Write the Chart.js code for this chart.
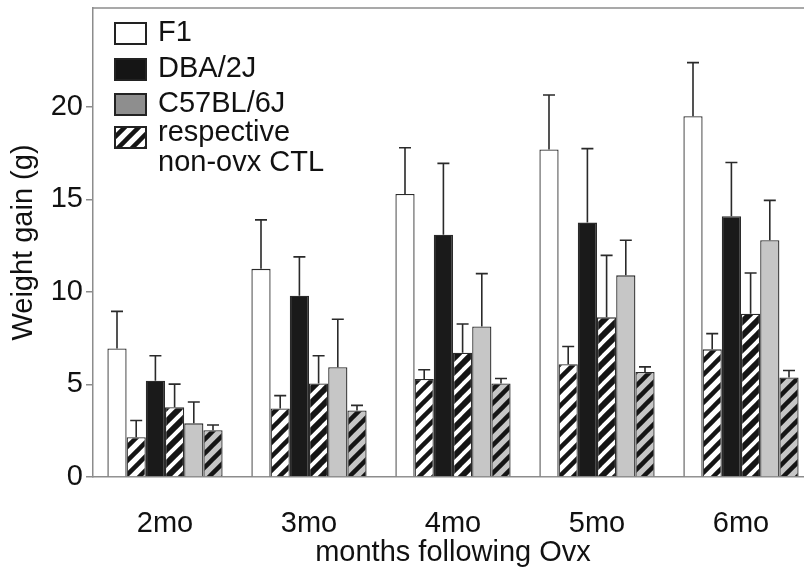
<!DOCTYPE html>
<html>
<head>
<meta charset="utf-8">
<script src="https://cdn.jsdelivr.net/npm/chart.js@4.4.1/dist/chart.umd.min.js"></script>
<style>
html, body { margin: 0; padding: 0; background: #fff; overflow: hidden; }
#wrap { width: 804px; height: 570px; overflow: hidden; }
</style>
</head>
<body>
<div id="wrap"><canvas id="graph" width="830" height="570"></canvas></div>
<script>
const months = ['2mo', '3mo', '4mo', '5mo', '6mo'];

const f1 = [6.95, 11.25, 15.3, 17.7, 19.5];
const f1Err = [2.0, 2.65, 2.5, 2.95, 2.9];
const f1Ctl = [2.15, 3.7, 5.3, 6.1, 6.9];
const f1CtlErr = [0.9, 0.7, 0.5, 0.95, 0.85];
const dba = [5.2, 9.8, 13.1, 13.75, 14.1];
const dbaErr = [1.35, 2.1, 3.85, 4.0, 2.9];
const dbaCtl = [3.77, 5.05, 6.72, 8.63, 8.83];
const dbaCtlErr = [1.25, 1.5, 1.55, 3.35, 2.2];
const c57 = [2.9, 5.93, 8.14, 10.9, 12.8];
const c57Err = [1.15, 2.6, 2.85, 1.9, 2.15];
const c57Ctl = [2.53, 3.6, 5.05, 5.68, 5.38];
const c57CtlErr = [0.28, 0.27, 0.27, 0.27, 0.38];

const yTicks = [0, 5, 10, 15, 20];
const legendLabels = ['F1', 'DBA/2J', 'C57BL/6J', ['respective', 'non-ovx CTL']];

const FONT = '"Liberation Sans", Arial, Helvetica, sans-serif';
Chart.defaults.font.family = FONT;
Chart.defaults.font.size = 29;
Chart.defaults.color = '#111';

const AXIS = '#8c8c8c';
const EDGE = '#2b2b2b';

function makeHatch(bg, fg, frac) {
    const size = 14;
    const c = document.createElement('canvas');
    c.width = size;
    c.height = size;
    const g = c.getContext('2d');
    g.fillStyle = bg;
    g.fillRect(0, 0, size, size);
    g.strokeStyle = fg;
    g.lineWidth = frac * size / Math.SQRT2;
    [-size, 0, size].forEach(o => {
        g.beginPath();
        g.moveTo(-2, size + o + 2);
        g.lineTo(size + 2, o - 2);
        g.stroke();
    });
    return g.createPattern(c, 'repeat');
}

const hatchWhite = makeHatch('#ffffff', '#151515', 0.45);
const hatchBlack = makeHatch('#ffffff', '#151515', 0.6);
const hatchGray = makeHatch('#c6c6c6', '#151515', 0.45);

function bars(label, data, errors, fill) {
    return {
        label: label,
        data: data,
        errors: errors,
        backgroundColor: fill,
        borderColor: EDGE,
        borderWidth: 1.3,
        categoryPercentage: 0.8,
        barPercentage: 1.0
    };
}

const errorBars = {
    id: 'errorBars',
    afterDatasetsDraw(chart) {
        const ctx = chart.ctx;
        const y = chart.scales.y;
        ctx.save();
        ctx.strokeStyle = '#2a2a2a';
        ctx.lineWidth = 1.6;
        chart.data.datasets.forEach((ds, i) => {
            chart.getDatasetMeta(i).data.forEach((bar, j) => {
                const top = y.getPixelForValue(ds.data[j] + ds.errors[j]);
                ctx.beginPath();
                ctx.moveTo(bar.x, bar.y);
                ctx.lineTo(bar.x, top);
                ctx.moveTo(bar.x - 6, top);
                ctx.lineTo(bar.x + 6, top);
                ctx.stroke();
            });
        });
        ctx.restore();
    }
};

const frame = {
    id: 'frame',
    afterDraw(chart) {
        const ctx = chart.ctx;
        const a = chart.chartArea;
        ctx.save();
        ctx.strokeStyle = AXIS;
        ctx.lineWidth = 1.5;
        ctx.beginPath();
        ctx.moveTo(a.left, a.top);
        ctx.lineTo(a.right + 20, a.top);
        ctx.stroke();
        ctx.restore();
    }
};

const boxLegend = {
    id: 'boxLegend',
    afterDraw(chart) {
        const ctx = chart.ctx;
        const a = chart.chartArea;
        const x = a.left + 22;
        const rows = [a.top + 25, a.top + 61, a.top + 96, a.top + 129];
        const fills = ['#ffffff', '#151515', '#8e8e8e', makeHatch('#ffffff', '#151515', 0.45)];
        ctx.save();
        ctx.font = '29px ' + FONT;
        ctx.textBaseline = 'middle';
        legendLabels.forEach((lab, i) => {
            const cy = rows[i];
            ctx.fillStyle = fills[i];
            ctx.fillRect(x, cy - 10, 31, 21);
            ctx.strokeStyle = '#222';
            ctx.lineWidth = 2;
            ctx.strokeRect(x, cy - 10, 31, 21);
            ctx.fillStyle = '#111';
            const lines = Array.isArray(lab) ? lab : [lab];
            lines.forEach((t, k) => {
                ctx.fillText(t, x + 43, cy - (lines.length > 1 ? 4 : 0) + k * 30);
            });
        });
        ctx.restore();
    }
};

new Chart(document.getElementById('graph'), {
    type: 'bar',
    data: {
        labels: months,
        datasets: [
            bars('F1', f1, f1Err, '#ffffff'),
            bars('F1 CTL', f1Ctl, f1CtlErr, hatchWhite),
            bars('DBA/2J', dba, dbaErr, '#1a1a1a'),
            bars('DBA/2J CTL', dbaCtl, dbaCtlErr, hatchBlack),
            bars('C57BL/6J', c57, c57Err, '#c6c6c6'),
            bars('C57BL/6J CTL', c57Ctl, c57CtlErr, hatchGray)
        ]
    },
    options: {
        responsive: false,
        devicePixelRatio: 1,
        animation: false,
        layout: { padding: { top: 8, right: 17, left: 0, bottom: 0 } },
        plugins: {
            legend: { display: false },
            tooltip: { enabled: false }
        },
        scales: {
            x: {
                afterFit: s => { s.height = 93; s.paddingLeft = 0; s.paddingRight = 0; },
                grid: { display: false },
                border: { display: true, color: AXIS, width: 1.5 },
                ticks: { padding: 22, color: '#111' },
                title: { display: true, text: 'months following Ovx', color: '#111', padding: { top: 0, bottom: 0 } }
            },
            y: {
                min: 0,
                max: 25.35,
                afterBuildTicks: s => { s.ticks = yTicks.map(v => ({ value: v })); },
                afterFit: s => { s.width = 93; s.paddingTop = 0; s.paddingBottom = 0; },
                grid: { display: true, drawOnChartArea: false, tickLength: 7, color: AXIS, lineWidth: 1.5 },
                border: { display: true, color: AXIS, width: 1.5 },
                ticks: { padding: 3, color: '#111' },
                title: { display: true, text: 'Weight gain (g)', color: '#111', padding: { top: 7, bottom: 0 } }
            }
        }
    },
    plugins: [errorBars, frame, boxLegend]
});
</script>
</body>
</html>
